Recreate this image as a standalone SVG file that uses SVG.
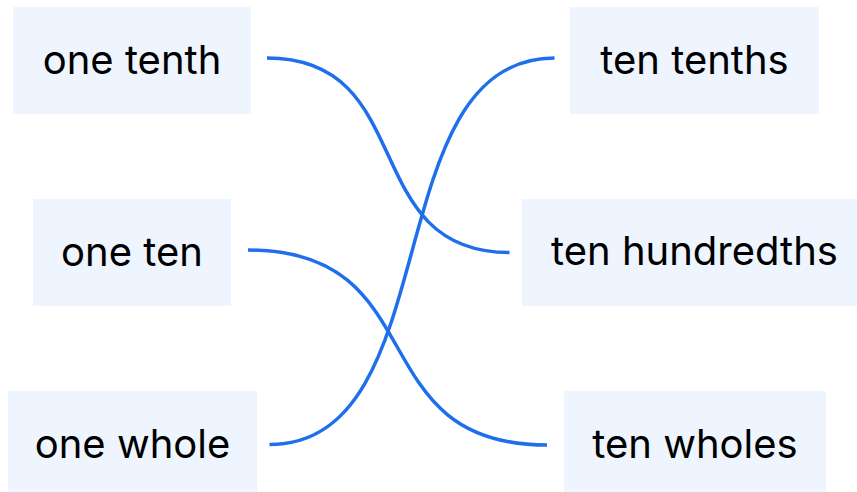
<svg xmlns="http://www.w3.org/2000/svg" width="857" height="492" viewBox="0 0 857 492">
<style>
.box{fill:#eef5fe}
.lbl{font-family:Inter,"Liberation Sans",sans-serif;font-size:40px;fill:#000;text-anchor:middle}
.conn{fill:none;stroke:#1f6fec;stroke-width:3.5;stroke-linecap:butt}
</style>
<rect width="857" height="492" fill="#fff"/>
<g id="connectors">
<path class="conn" d="M267,58 C419.8,58 356.7,252.5 509.5,252.5"/>
<path class="conn" d="M248,250 C436.4,250 358.6,445 547,445"/>
<path class="conn" d="M269.5,444.5 C449.1,444.5 374.9,58 554.5,58"/>
</g>
<g id="one-tenth"><rect class="box" x="13" y="7" width="238" height="107"/><text class="lbl" x="132" y="74">one tenth</text></g>
<g id="one-ten"><rect class="box" x="33" y="199" width="198" height="107"/><text class="lbl" x="132" y="266">one ten</text></g>
<g id="one-whole"><rect class="box" x="8" y="391" width="249" height="107"/><text class="lbl" x="132.5" y="458">one whole</text></g>
<g id="ten-tenths"><rect class="box" x="570" y="7" width="249" height="107"/><text class="lbl" x="694.5" y="74">ten tenths</text></g>
<g id="ten-hundredths"><rect class="box" x="522" y="199" width="345" height="107"/><text class="lbl" x="694.5" y="265">ten hundredths</text></g>
<g id="ten-wholes"><rect class="box" x="564" y="391" width="262" height="107"/><text class="lbl" x="695" y="458">ten wholes</text></g>
</svg>
